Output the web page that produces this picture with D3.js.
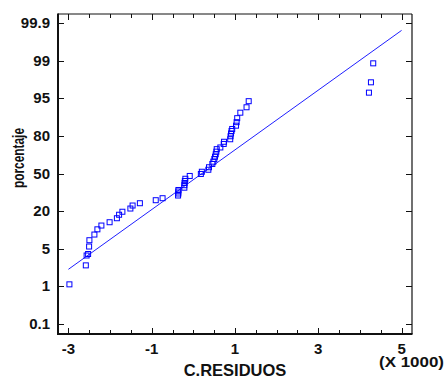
<!DOCTYPE html>
<html>
<head>
<meta charset="utf-8">
<script src="https://cdn.jsdelivr.net/npm/d3@7"></script>
<style>
  html, body { margin: 0; padding: 0; background: #fff; }
  svg { display: block; }
  text { font-family: "Liberation Sans", Arial, sans-serif; font-weight: bold; fill: #111; }
</style>
</head>
<body>
<div id="chart"></div>
<script>
// residuals (raw units, axis shows them x 1000)
const residuals = [
  -2976, -2582, -2563, -2527, -2503, -2496, -2376, -2304, -2208, -2011,
  -1836, -1783, -1704, -1512, -1459, -1284, -903, -739, -367, -360,
  -362, -358, -216, -216, -211, -204, -192, -87, 180, 204,
  360, 376, 456, 480, 504, 520, 537, 552, 561, 648,
  729, 737, 885, 893, 905, 917, 933, 1025, 1039, 1053,
  1128, 1277, 1329, 4216, 4264, 4319
];
// cumulative percentage of each residual
const percents = [
  1.22, 3.24, 4.29, 4.45, 5.92, 8.43, 10.7, 12.78, 14.29, 15.61,
  17.21, 18.6, 19.8, 22.16, 24.56, 26.4, 28.8, 30.4, 32.56, 34.16,
  35.76, 36.96, 38.8, 40.8, 42.56, 44.16, 45.92, 48.16, 49.76, 51.52,
  53.11, 55.11, 57.74, 59.57, 61.73, 63.56, 65.48, 67.55, 69.55, 70.9,
  73.7, 75.45, 77.45, 79.84, 81.04, 82.03, 82.83, 84.15, 85.54, 87.14,
  89.33, 91.49, 93.92, 95.62, 96.72, 98.74
];
// reference line endpoints
const fitX = [-3000, 5000];
const fitP = [2.82, 99.73];

const yTicks = [0.1, 1, 5, 20, 50, 80, 95, 99, 99.9];
const yTickLabels = ["0.1", "1", "5", "20", "50", "80", "95", "99", "99.9"];
const xMajor = [-3000, -1000, 1000, 3000, 5000];
const xMinorStep = 500;

const width = 444, height = 378;
const plotLeft = 58, plotRight = 412, plotTop = 14, plotBottom = 334;

const svg = d3.select("#chart").append("svg")
  .attr("width", width)
  .attr("height", height);

const x = d3.scaleLinear().domain([-3250, 5250]).range([plotLeft, plotRight]);

// probability axis: labels evenly spaced
const yTop = plotTop + 9.3, yBottom = plotBottom - 10;
const step = (yBottom - yTop) / (yTicks.length - 1);
const y = d3.scaleLinear()
  .domain(yTicks)
  .range(yTicks.map((d, i) => yBottom - i * step));

// frame
svg.append("line").attr("x1", plotLeft).attr("x2", plotRight).attr("y1", plotTop).attr("y2", plotTop)
  .attr("stroke", "#111").attr("stroke-width", 1);
svg.append("line").attr("x1", plotRight).attr("x2", plotRight).attr("y1", plotTop).attr("y2", plotBottom)
  .attr("stroke", "#111").attr("stroke-width", 1.2);
svg.append("line").attr("x1", plotLeft).attr("x2", plotLeft).attr("y1", plotTop - 0.5).attr("y2", plotBottom + 1)
  .attr("stroke", "#111").attr("stroke-width", 2);
svg.append("line").attr("x1", plotLeft).attr("x2", plotRight + 0.5).attr("y1", plotBottom).attr("y2", plotBottom)
  .attr("stroke", "#111").attr("stroke-width", 2);

// x ticks, inside on top and bottom
const xTickVals = d3.range(-3000, 5001, xMinorStep);
const isMajor = (d) => xMajor.includes(d);
const ticks = svg.append("g").attr("stroke", "#111").attr("stroke-width", 1);
ticks.selectAll(".xb").data(xTickVals).enter().append("line")
  .attr("x1", (d) => Math.round(x(d)) + 0.5).attr("x2", (d) => Math.round(x(d)) + 0.5)
  .attr("y1", plotBottom).attr("y2", (d) => plotBottom - (isMajor(d) ? 6 : 4));
ticks.selectAll(".xt").data(xTickVals).enter().append("line")
  .attr("x1", (d) => Math.round(x(d)) + 0.5).attr("x2", (d) => Math.round(x(d)) + 0.5)
  .attr("y1", plotTop).attr("y2", (d) => plotTop + (isMajor(d) ? 6 : 4));

// y ticks, inside on left and right
ticks.selectAll(".yl").data(yTicks).enter().append("line")
  .attr("x1", plotLeft).attr("x2", plotLeft + 6)
  .attr("y1", (d) => Math.round(y(d)) + 0.5).attr("y2", (d) => Math.round(y(d)) + 0.5);
ticks.selectAll(".yr").data(yTicks).enter().append("line")
  .attr("x1", plotRight).attr("x2", plotRight - 6)
  .attr("y1", (d) => Math.round(y(d)) + 0.5).attr("y2", (d) => Math.round(y(d)) + 0.5);

// tick labels
svg.selectAll(".ylab").data(yTicks).enter().append("text")
  .attr("x", plotLeft - 8)
  .attr("y", (d) => y(d) + 5)
  .attr("text-anchor", "end")
  .attr("font-size", 15)
  .text((d, i) => yTickLabels[i]);

svg.selectAll(".xlab").data(xMajor).enter().append("text")
  .attr("x", (d) => x(d))
  .attr("y", 354)
  .attr("text-anchor", "middle")
  .attr("font-size", 15)
  .text((d) => String(d / 1000));

svg.append("text")
  .attr("x", 444).attr("y", 367)
  .attr("text-anchor", "end")
  .attr("font-size", 15.5)
  .attr("textLength", 65)
  .attr("lengthAdjust", "spacingAndGlyphs")
  .text("(X 1000)");

// axis titles
svg.append("text")
  .attr("x", 235).attr("y", 375.5)
  .attr("text-anchor", "middle")
  .attr("font-size", 16.5)
  .text("C.RESIDUOS");

svg.append("text")
  .attr("transform", "translate(23.5,158) rotate(-90)")
  .attr("text-anchor", "middle")
  .attr("font-size", 16.5)
  .attr("textLength", 60)
  .attr("lengthAdjust", "spacingAndGlyphs")
  .text("porcentaje");

// reference line
svg.append("line")
  .attr("x1", x(fitX[0])).attr("y1", y(fitP[0]))
  .attr("x2", x(fitX[1])).attr("y2", y(fitP[1]))
  .attr("stroke", "#1f1fff").attr("stroke-width", 1);

// points
svg.append("g").selectAll("rect")
  .data(residuals.map((r, i) => [r, percents[i]]))
  .enter().append("rect")
  .attr("x", (d) => x(d[0]) - 2.5)
  .attr("y", (d) => y(d[1]) - 2.5)
  .attr("width", 5).attr("height", 5)
  .attr("fill", "none")
  .attr("stroke", "#0000ff")
  .attr("stroke-width", 1);
</script>
</body>
</html>
